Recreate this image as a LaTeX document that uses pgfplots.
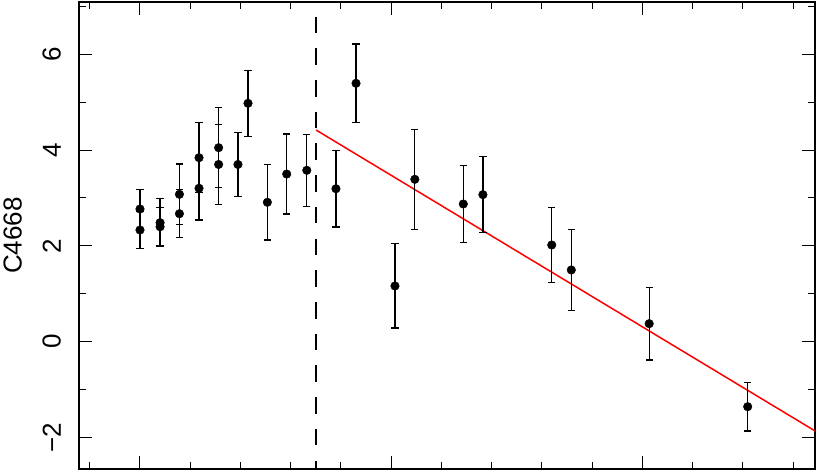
\documentclass[border=0pt]{standalone}
\usepackage{fontspec}
\setmainfont{Liberation Sans}
\usepackage{pgfplots}
\usepackage{pgfplotstable}
\pgfplotsset{compat=1.18}

% index values with 1-sigma errors
\pgfplotstableread{
x      y      e
0.000  2.770  0.41
0.000  2.332  0.38
0.080  2.485  0.50
0.080  2.400  0.40
0.157  3.077  0.63
0.157  2.672  0.50
0.235  3.841  0.73
0.235  3.203  0.66
0.313  4.050  0.835
0.313  3.700  0.835
0.390  3.700  0.665
0.430  4.977  0.69
0.507  2.910  0.79
0.584  3.500  0.835
0.664  3.578  0.75
0.780  3.194  0.80
0.860  5.394  0.82
1.015  1.163  0.88
1.094  3.390  1.045
1.287  2.875  0.81
1.365  3.070  0.79
1.639  2.019  0.78
1.717  1.497  0.85
2.027  0.376  0.76
2.419 -1.357  0.51
}\pts

\begin{document}
\begin{tikzpicture}
\begin{axis}[
    at={(0,0)}, anchor=south west,
    scale only axis, width=736pt, height=467pt,
    xmin=-0.2428, xmax=2.687, ymin=-2.658, ymax=7.092,
    xtick={0,1,2}, xticklabels={},
    minor xtick={-0.2,0.2,0.4,0.6,0.8,1.2,1.4,1.6,1.8,2.2,2.4,2.6},
    ytick={-2,0,2,4,6},
    yticklabels={−2,0,2,4,6},
    minor ytick={-1,1,3,5,7},
    tick align=inside,
    major tick length=12.7pt, minor tick length=6.7pt,
    tick style={black, line width=1pt},
    axis line style={line width=1.2pt},
    yticklabel style={font=\fontsize{26}{30}\selectfont, xshift=-18pt, rotate=90, anchor=south, inner sep=0pt},
    ylabel={C4668},
    every axis y label/.style={at={([xshift=-57pt]axis description cs:0,0.5)}, rotate=90, anchor=south, inner sep=0pt, font=\fontsize{26}{30}\selectfont},
    clip=true,
]
\addplot[black, dash pattern=on 16.5pt off 15.2pt, dash phase=17pt, line width=1.3pt]
    coordinates {(0.7006,7.092) (0.7006,-2.658)};
\addplot[red, line width=1.5pt] coordinates {(0.7006,4.42) (2.687,-1.863)};
\addplot[only marks, mark=*, mark size=4.3pt, black,
    error bars/.cd, y dir=both, y explicit,
    error bar style={line width=1.3pt, black},
    error mark options={rotate=90, mark size=3.6pt, line width=1.3pt, black}]
    table[x=x, y=y, y error=e] {\pts};
\end{axis}
\pgfresetboundingbox
\path (-79pt,-3pt) rectangle (738pt,469pt);
\end{tikzpicture}
\end{document}
